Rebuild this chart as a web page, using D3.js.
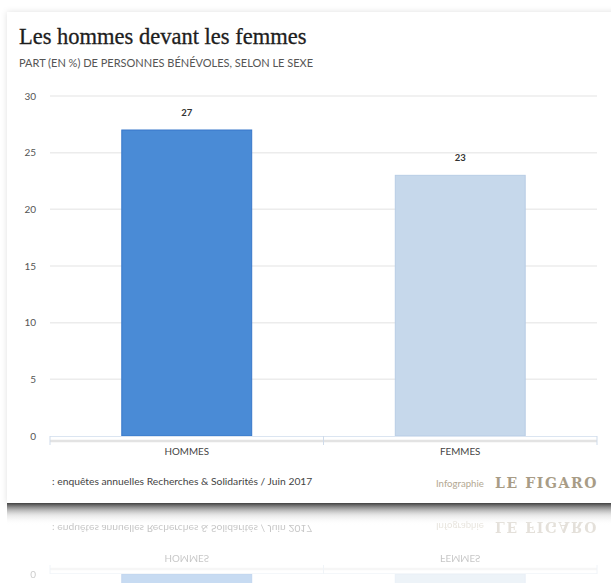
<!DOCTYPE html>
<html>
<head>
<meta charset="utf-8">
<script src="https://cdn.jsdelivr.net/npm/d3@7"></script>
<style>
  html, body { margin: 0; padding: 0; background: #fff; }
  svg { display: block; }
</style>
</head>
<body>
<svg id="chart" width="611" height="583"></svg>
<script>
(function () {
  'use strict';

  const categories = ['HOMMES', 'FEMMES'];
  const values = [27, 23];
  const barColors = ['#4a8bd6', '#c6d8eb'];
  const barStrokes = ['#3677c9', '#b8cde5'];
  const yTicks = [0, 5, 10, 15, 20, 25, 30];

  const TITLE = 'Les hommes devant les femmes';
  const SUBTITLE = 'PART (EN %) DE PERSONNES BÉNÉVOLES, SELON LE SEXE';
  const SOURCE = ': enquêtes annuelles Recherches & Solidarités / Juin 2017';

  const W = 611, H = 583;
  const MIRROR_Y = 505;

  const svg = d3.select('#chart');
  const defs = svg.append('defs');

  defs.append('filter').attr('id', 'cardShadow')
    .attr('x', '-10%').attr('y', '-10%').attr('width', '120%').attr('height', '120%')
    .append('feDropShadow')
    .attr('dx', 0).attr('dy', 0).attr('stdDeviation', 3)
    .attr('flood-color', '#000').attr('flood-opacity', 0.12);

  const shade = defs.append('linearGradient').attr('id', 'underShade')
    .attr('x1', 0).attr('y1', 0).attr('x2', 0).attr('y2', 1);
  shade.append('stop').attr('offset', '0%').attr('stop-color', '#3a3a3a').attr('stop-opacity', 0.95);
  shade.append('stop').attr('offset', '18%').attr('stop-color', '#666').attr('stop-opacity', 0.75);
  shade.append('stop').attr('offset', '55%').attr('stop-color', '#bbb').attr('stop-opacity', 0.35);
  shade.append('stop').attr('offset', '100%').attr('stop-color', '#fff').attr('stop-opacity', 0);

  defs.append('clipPath').attr('id', 'belowCard')
    .append('rect').attr('x', 0).attr('y', MIRROR_Y).attr('width', W).attr('height', H - MIRROR_Y);

  const x = d3.scaleBand()
    .domain(categories)
    .range([50, 597])
    .paddingInner(0.525)
    .paddingOuter(0.2625);

  const y = d3.scaleLinear().domain([0, 30]).range([436, 96]);

  function drawChart(g, withHeader) {
    if (withHeader) {
      g.append('text')
        .attr('x', 19).attr('y', 44)
        .attr('font-family', '"Liberation Serif", serif')
        .attr('font-size', 22.5)
        .attr('fill', '#1e1e1e')
        .attr('stroke', '#1e1e1e').attr('stroke-width', 0.3)
        .text(TITLE);

      g.append('text')
        .attr('x', 19).attr('y', 67)
        .attr('font-family', 'Lato, sans-serif')
        .attr('font-size', 11)
        .attr('fill', '#555')
        .text(SUBTITLE);
    }

    // gridlines + y labels
    const grid = g.append('g');
    grid.selectAll('line.grid')
      .data(yTicks.filter(d => d > 0))
      .join('line')
      .attr('class', 'grid')
      .attr('x1', 50).attr('x2', 597)
      .attr('y1', d => y(d)).attr('y2', d => y(d))
      .attr('stroke', '#ececec').attr('stroke-width', 1.5);

    grid.selectAll('text.ytick')
      .data(yTicks)
      .join('text')
      .attr('class', 'ytick')
      .attr('x', 36).attr('y', d => y(d) + 3.5)
      .attr('text-anchor', 'end')
      .attr('font-family', 'Lato, sans-serif')
      .attr('font-size', 10)
      .attr('fill', '#555')
      .text(d => d);

    // bars
    g.selectAll('rect.bar')
      .data(values)
      .join('rect')
      .attr('class', 'bar')
      .attr('x', (d, i) => x(categories[i]))
      .attr('y', d => y(d))
      .attr('width', x.bandwidth())
      .attr('height', d => y(0) - y(d))
      .attr('fill', (d, i) => barColors[i])
      .attr('stroke', (d, i) => barStrokes[i])
      .attr('stroke-width', 1);

    g.selectAll('text.val')
      .data(values)
      .join('text')
      .attr('class', 'val')
      .attr('x', (d, i) => x(categories[i]) + x.bandwidth() / 2)
      .attr('y', d => y(d) - 14)
      .attr('text-anchor', 'middle')
      .attr('font-family', 'Lato, sans-serif')
      .attr('font-weight', 'bold')
      .attr('font-size', 9.5)
      .attr('fill', '#333')
      .text(d => d);

    // x axis
    g.append('line')
      .attr('x1', 50).attr('x2', 597)
      .attr('y1', y(0) + 0.5).attr('y2', y(0) + 0.5)
      .attr('stroke', '#dbe5f1').attr('stroke-width', 1);
    g.append('line')
      .attr('x1', 50).attr('x2', 597)
      .attr('y1', y(0) + 5).attr('y2', y(0) + 5)
      .attr('stroke', '#e3e3e3').attr('stroke-width', 2.5);

    const bounds = [50, x(categories[1]) - x.step() * x.paddingInner() / 2, 597];
    g.selectAll('line.xtick')
      .data(bounds)
      .join('line')
      .attr('class', 'xtick')
      .attr('x1', d => d).attr('x2', d => d)
      .attr('y1', y(0)).attr('y2', y(0) + 9)
      .attr('stroke', '#cfdbea').attr('stroke-width', 1);

    g.selectAll('text.cat')
      .data(categories)
      .join('text')
      .attr('class', 'cat')
      .attr('x', d => x(d) + x.bandwidth() / 2)
      .attr('y', y(0) + 19)
      .attr('text-anchor', 'middle')
      .attr('font-family', 'Lato, sans-serif')
      .attr('font-size', 9.8)
      .attr('fill', '#444')
      .text(d => d);

    // footer
    g.append('text')
      .attr('x', 52).attr('y', 485)
      .attr('font-family', 'Lato, sans-serif')
      .attr('font-size', 10.3)
      .attr('fill', '#444')
      .text(SOURCE);

    g.append('text')
      .attr('x', 436).attr('y', 487)
      .attr('font-family', 'Lato, sans-serif')
      .attr('font-size', 9.6)
      .attr('fill', '#b3a892')
      .text('Infographie');

    g.append('text')
      .attr('x', 495).attr('y', 488)
      .attr('font-family', '"DejaVu Serif", serif')
      .attr('font-weight', 'bold')
      .attr('font-size', 14)
      .attr('letter-spacing', 1.6)
      .attr('fill', '#a89c86')
      .text('LE FIGARO');
  }

  // reflection below the card
  const refl = svg.append('g')
    .attr('clip-path', 'url(#belowCard)')
    .append('g')
    .attr('opacity', 0.3)
    .attr('transform', `translate(0,${2 * MIRROR_Y}) scale(1,-1)`);
  drawChart(refl, false);

  // dark shadow under the card
  svg.append('rect')
    .attr('x', 7).attr('y', 503)
    .attr('width', W - 7).attr('height', 22)
    .attr('fill', 'url(#underShade)');

  // card
  svg.append('rect')
    .attr('x', 7).attr('y', 12)
    .attr('width', W + 20).attr('height', 491)
    .attr('fill', '#fff')
    .attr('filter', 'url(#cardShadow)');

  drawChart(svg.append('g'), true);
})();
</script>
</body>
</html>
